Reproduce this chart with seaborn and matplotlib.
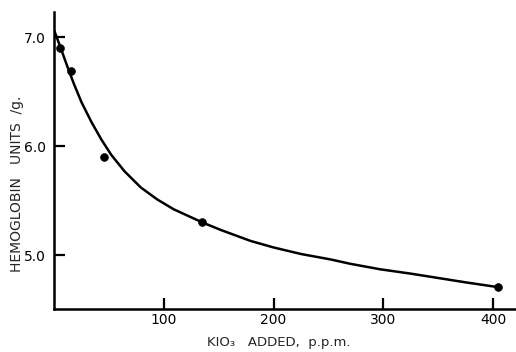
import matplotlib
matplotlib.use("Agg")
import matplotlib.pyplot as plt
import seaborn as sns
import pandas as pd

# measured points (KIO3 ppm, hemoglobin units/g)
kio3_ppm = [5, 15, 45, 135, 405]
hemoglobin = [6.90, 6.69, 5.90, 5.30, 4.71]

# hand-drawn fitted curve
curve_x = [0, 3, 7, 12, 18, 25, 34, 43, 52, 64, 79, 94, 109, 122, 135, 152, 179,
           200, 225, 252, 270, 297, 325, 350, 375, 402]
curve_y = [7.06, 6.98, 6.87, 6.73, 6.57, 6.40, 6.22, 6.06, 5.92, 5.77, 5.62, 5.51,
           5.42, 5.36, 5.30, 5.23, 5.13, 5.07, 5.01, 4.96, 4.92, 4.87, 4.83, 4.79,
           4.75, 4.71]

x_ticks = [100, 200, 300, 400]
y_ticks = [5.0, 6.0, 7.0]

points = pd.DataFrame({"ppm": kio3_ppm, "hb": hemoglobin})
curve = pd.DataFrame({"ppm": curve_x, "hb": curve_y})

sns.set_style("ticks")
plt.rcParams["font.family"] = ["DejaVu Sans"]

fig = plt.figure(figsize=(5.16, 3.52), dpi=100)
ax = fig.add_axes([0.105, 0.122, 0.895, 0.844])

sns.lineplot(data=curve, x="ppm", y="hb", color="black", linewidth=1.8, ax=ax,
             solid_joinstyle="round", solid_capstyle="round")
sns.scatterplot(data=points, x="ppm", y="hb", color="black", s=32, edgecolor="black",
                zorder=3, ax=ax, clip_on=False)

ax.set_xlim(0, 421)
ax.set_ylim(4.505, 7.23)
ax.set_xticks(x_ticks)
ax.set_yticks(y_ticks)
ax.set_xticklabels([str(t) for t in x_ticks], fontsize=10)
ax.set_yticklabels([f"{t:.1f}" for t in y_ticks], fontsize=10)
ax.tick_params(direction="in", length=8, width=1.6, colors="black")
ax.tick_params(axis="x", pad=3)
ax.tick_params(axis="y", pad=6)

sns.despine(ax=ax)
for side in ["left", "bottom"]:
    ax.spines[side].set_linewidth(1.8)
    ax.spines[side].set_color("black")

ax.set_xlabel("KIO\u2083   ADDED,  p.p.m.", fontsize=9.5, va="center")
ax.set_ylabel("HEMOGLOBIN   UNITS  /g.", fontsize=10, va="center")
ax.xaxis.set_label_coords(0.487, -0.112)
ax.yaxis.set_label_coords(-0.08, 0.42)

fig.savefig("out.png", dpi=100, facecolor="white")
